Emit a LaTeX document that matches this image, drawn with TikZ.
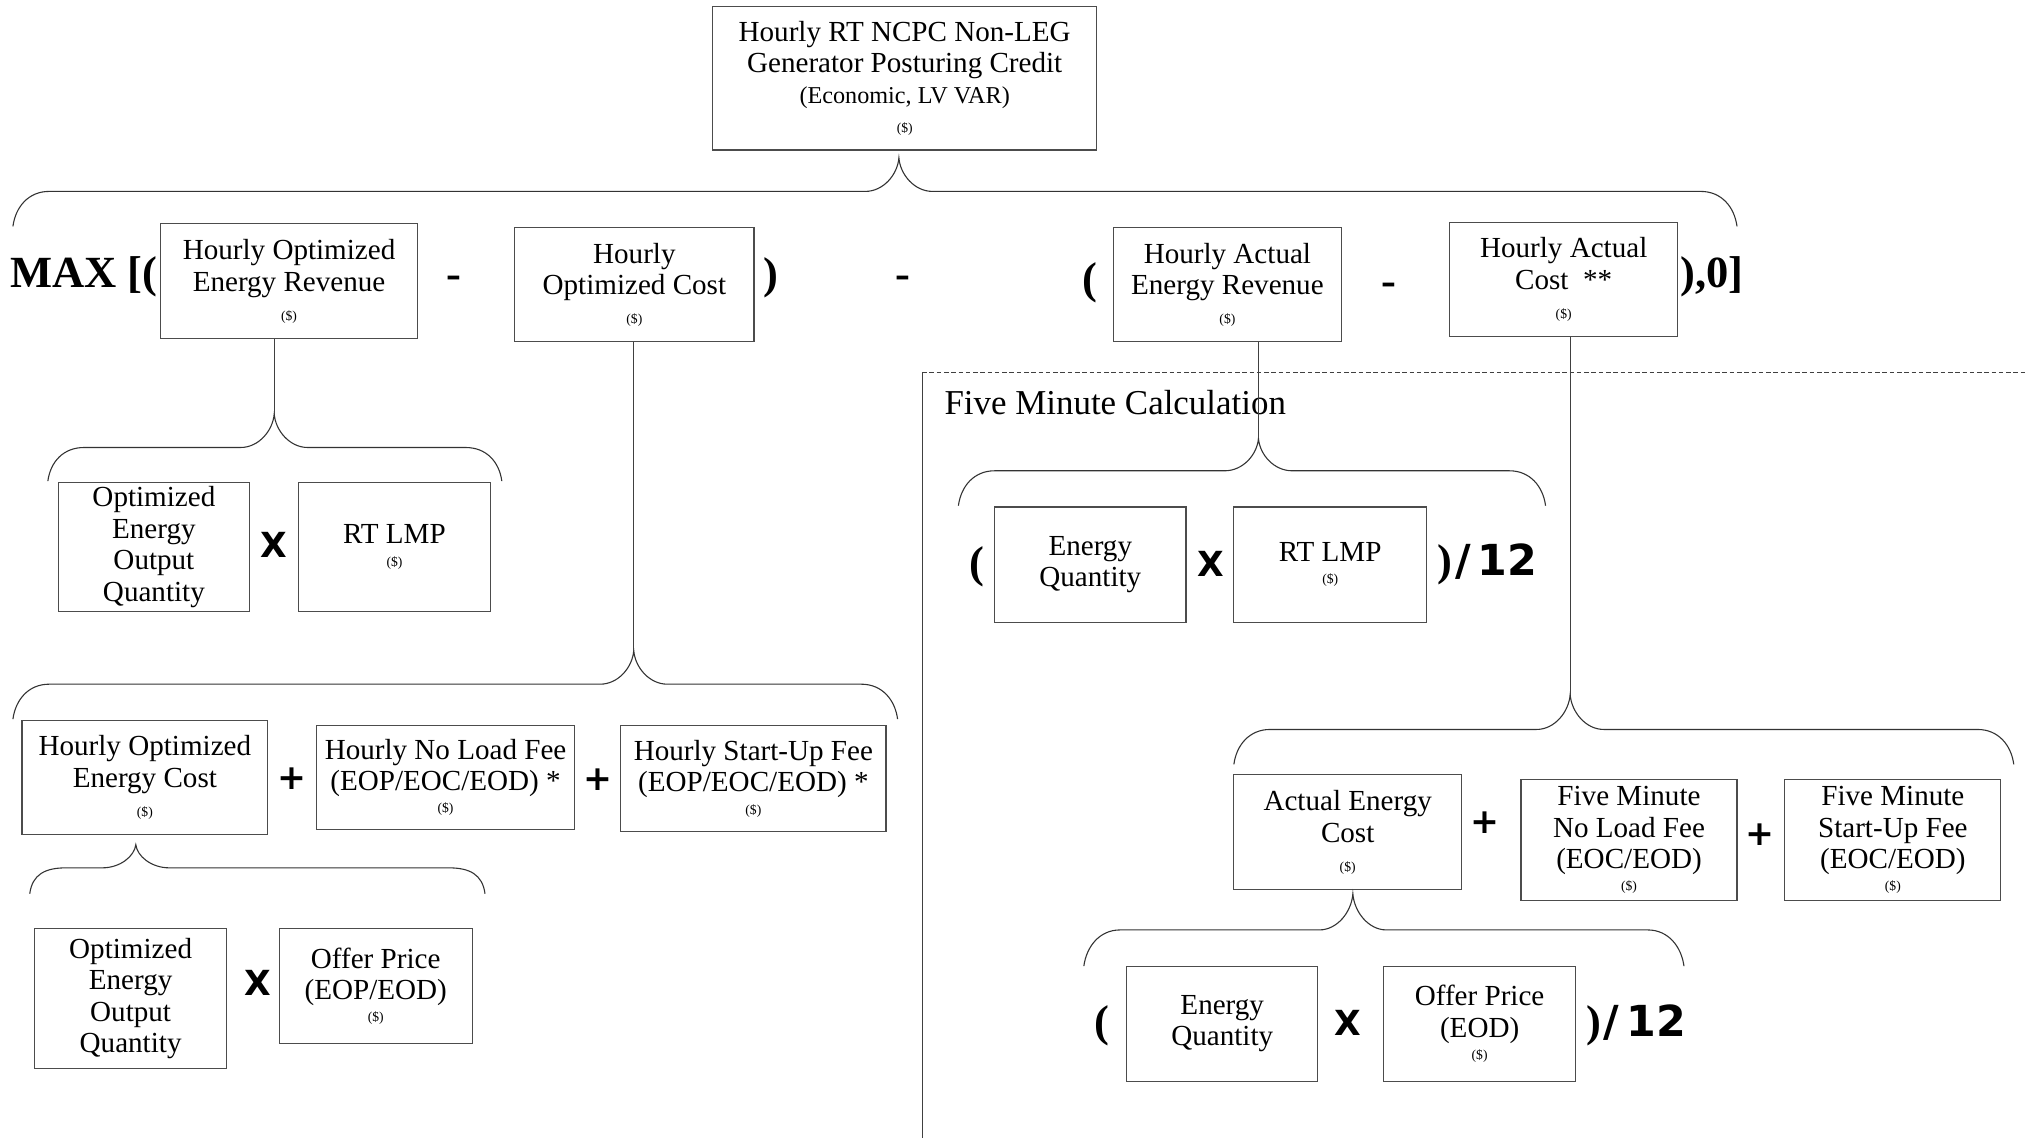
\documentclass[tikz,border=0pt]{standalone}
\usepackage{fontspec}
\setmainfont{Liberation Serif}
\newfontfamily\opserif{Liberation Serif}
\newfontfamily\opsans{DejaVu Sans}

% small "($)" unit tag used under most box labels
\newcommand\usd{{\fontsize{7.5}{8}\selectfont(\$)}}
% line breaks before the unit tag: loose and tight
\newcommand\lusd{\\[-1.5pt]\usd}
\newcommand\tusd{\\[-5pt]\usd}
% closing parenthesis divided by twelve
\newcommand\bytwelve{{\opserif\bfseries\fontsize{24.5}{26}\selectfont)}\,{\opsans\bfseries\fontsize{23.5}{25}\selectfont/\,12}}

% a box given by its corners: name, x0, y0, x1, y1, text
\newcommand\mkbox[6]{%
  \node[box, minimum width={(#4-#2)*0.025cm}, minimum height={(#5-#3)*0.025cm}]
    (#1) at ({(#2+#4)/2},{(#3+#5)/2}) {#6};}

% curly brace opening downward: x0, x1, xc (cusp), ytop, yend, ycusp
\newcommand\curlybrace[6]{%
  \draw[brc] (#1,#5) .. controls (#1+2,#5-15) and (#1+12,#4) .. (#1+28,#4)
    -- (#3-26,#4) .. controls (#3-12,#4) and (#3-1,{(#4+#6)/2}) .. (#3,#6)
    .. controls (#3+1,{(#4+#6)/2}) and (#3+12,#4) .. (#3+26,#4)
    -- (#2-28,#4) .. controls (#2-12,#4) and (#2-2,#5-15) .. (#2,#5);}

\tikzset{
  box/.style={draw=black!70, line width=0.6pt, fill=white, inner sep=0pt,
    align=center, font=\fontsize{16}{17.3}\selectfont},
  brc/.style={black!80, line width=0.6pt},
  conn/.style={black!75, line width=0.5pt},
  opsign/.style={inner sep=0pt, font=\opsans\bfseries\fontsize{19}{20}\selectfont},
  opparen/.style={inner sep=0pt, font=\opserif\bfseries\fontsize{24.5}{26}\selectfont},
  region/.style={black!75, line width=0.55pt},
}

\begin{document}
\begin{tikzpicture}[x=0.025cm, y=-0.025cm]
\useasboundingbox (0,0) rectangle (1568,880);

% five minute calculation region
\draw[region, dash pattern=on 2.5pt off 1.5pt] (713,288) -- (1568,288);
\draw[region] (713,288) -- (713,880);
\node[anchor=west, inner sep=0pt, font=\fontsize{19.2}{21}\selectfont] (fmc) at (730,311) {Five Minute Calculation};

% top result
\mkbox{top}{551}{5}{848}{116}{Hourly RT NCPC Non-LEG\\Generator Posturing Credit\\{\fontsize{13.3}{17.3}\selectfont(Economic, LV VAR)}\lusd}

% first level terms
\mkbox{hoer}{124}{173}{323}{262}{Hourly Optimized\\Energy Revenue\lusd}
\mkbox{hoc}{398}{176}{583}{264}{Hourly\\Optimized Cost\lusd}
\mkbox{haer}{861}{176}{1037}{264}{Hourly Actual\\Energy Revenue\lusd}
\mkbox{hac}{1121}{172}{1297}{260}{Hourly Actual\\Cost\ \ **\lusd}

\node[opparen, anchor=east] (maxo) at (122,214) {MAX [(};
\node[opparen] (m1) at (351,218) {-};
\node[opparen] (p1) at (596,215) {)};
\node[opparen] (m2) at (698,218) {-};
\node[opparen] (p2) at (843,219) {(};
\node[opparen] (m3) at (1074,224) {-};
\node[opparen, anchor=west] (maxc) at (1299,214) {),0]};

% optimized energy revenue
\mkbox{oeoqa}{45}{373}{193}{473}{Optimized\\Energy\\Output\\Quantity}
\mkbox{rtlmpa}{231}{373}{379}{473}{RT LMP\tusd}
\node[opsign] (xa) at (212,421) {X};

% optimized cost
\mkbox{hoec}{17}{557}{207}{645}{Hourly Optimized\\Energy Cost\lusd}
\mkbox{hnlf}{245}{561}{444}{641}{Hourly No Load Fee\\(EOP/EOC/EOD) *\tusd}
\mkbox{hsuf}{480}{561}{685}{643}{Hourly Start-Up Fee\\(EOP/EOC/EOD) *\tusd}
\node[opsign] (pa) at (226,602) {+};
\node[opsign] (pb) at (462,603) {+};

\mkbox{oeoqb}{27}{718}{175}{826}{Optimized\\Energy\\Output\\Quantity}
\mkbox{opa}{216}{718}{365}{807}{Offer Price\\(EOP/EOD)\tusd}
\node[opsign] (xb) at (199,760) {X};

% actual energy revenue
\mkbox{eqa}{769}{392}{917}{481}{Energy\\Quantity}
\mkbox{rtlmpb}{954}{392}{1103}{481}{RT LMP\tusd}
\node[opparen] (pc) at (755,438) {(};
\node[opsign] (xc) at (936,436) {X};
\node[anchor=west, inner sep=0pt] (dva) at (1111,436) {\bytwelve};

% actual cost
\mkbox{aec}{954}{599}{1130}{688}{Actual Energy\\Cost\lusd}
\mkbox{fmnlf}{1176}{603}{1343}{696}{Five Minute\\No Load Fee\\(EOC/EOD)\tusd}
\mkbox{fmsuf}{1380}{603}{1547}{696}{Five Minute\\Start-Up Fee\\(EOC/EOD)\tusd}
\node[opsign] (pd) at (1148,636) {+};
\node[opsign] (pe) at (1361,645) {+};

\mkbox{eqb}{871}{747}{1019}{836}{Energy\\Quantity}
\mkbox{opb}{1070}{747}{1218}{836}{Offer Price\\(EOD)\tusd}
\node[opparen] (pf) at (852,793) {(};
\node[opsign] (xd) at (1042,791) {X};
\node[anchor=west, inner sep=0pt] (dvb) at (1226,793) {\bytwelve};

% brace cusps
\coordinate (c1) at (695,122);
\coordinate (c2) at (212,320);
\coordinate (c3) at (490,503);
\coordinate (c4) at (105,653);
\coordinate (c5) at (973,339);
\coordinate (c6) at (1214,537);
\coordinate (c7) at (1046,691);

% braces
\curlybrace{10}{1343}{695}{148}{175}{122}
\curlybrace{37}{388}{212}{346}{372}{320}
\curlybrace{10}{694}{490}{529}{556}{503}
\curlybrace{23}{375}{105}{671}{691}{653}
\curlybrace{741}{1195}{973}{364}{391}{339}
\curlybrace{954}{1557}{1214}{564}{591}{537}
\curlybrace{838}{1302}{1046}{719}{747}{691}

% connectors from terms down to their breakdown braces
\draw[conn] (hoer.south -| c2) -- (c2);
\draw[conn] (hoc.south -| c3) -- (c3);
\draw[conn] (haer.south -| c5) -- (c5);
\draw[conn] (hac.south -| c6) -- (c6);
\end{tikzpicture}
\end{document}
